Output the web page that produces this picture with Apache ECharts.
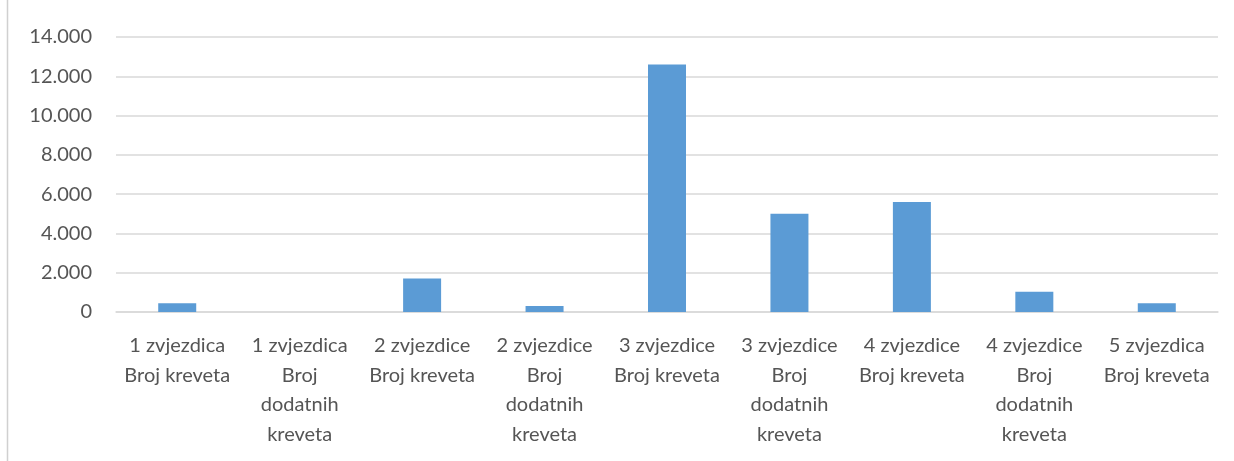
<!DOCTYPE html>
<html>
<head>
<meta charset="utf-8">
<script src="https://cdn.jsdelivr.net/npm/echarts@6/dist/echarts.min.js"></script>
<style>
  html, body { margin: 0; padding: 0; background: #fff; }
  #chart { width: 1234px; height: 461px; }
</style>
</head>
<body>
<div id="chart"></div>
<script>
// Categories: star rating + measure, line-broken as they appear under the axis
const categories = [
  '1 zvjezdica\nBroj kreveta',
  '1 zvjezdica\nBroj\ndodatnih\nkreveta',
  '2 zvjezdice\nBroj kreveta',
  '2 zvjezdice\nBroj\ndodatnih\nkreveta',
  '3 zvjezdice\nBroj kreveta',
  '3 zvjezdice\nBroj\ndodatnih\nkreveta',
  '4 zvjezdice\nBroj kreveta',
  '4 zvjezdice\nBroj\ndodatnih\nkreveta',
  '5 zvjezdica\nBroj kreveta'
];
const values = [440, 0, 1700, 300, 12600, 5000, 5600, 1030, 440];

const yMin = 0;
const yMax = 14000;
const yStep = 2000;

const fontFamily = 'Lato, "Open Sans", "Liberation Sans", sans-serif';
const textColor = '#555555';
const gridColor = '#d9d9d9';

function thousands(v) {
  return String(v).replace(/\B(?=(\d{3})+(?!\d))/g, '.');
}

const chart = echarts.init(document.getElementById('chart'), null, { renderer: 'canvas' });
chart.setOption({
  animation: false,
  backgroundColor: '#ffffff',
  grid: { left: 116, right: 16, top: 37, bottom: 149, containLabel: false },
  graphic: [{
    type: 'line',
    shape: { x1: 7.5, y1: 0, x2: 7.5, y2: 461 },
    style: { stroke: '#d0d0d0', lineWidth: 1.5 }
  }],
  xAxis: {
    type: 'category',
    data: categories,
    axisLine: { show: true, lineStyle: { color: gridColor, width: 1.5 } },
    axisTick: { show: false },
    axisLabel: {
      interval: 0,
      margin: 19,
      color: textColor,
      fontFamily: fontFamily,
      fontSize: 20,
      lineHeight: 29.5,
      align: 'center',
      verticalAlign: 'top'
    }
  },
  yAxis: {
    type: 'value',
    min: yMin,
    max: yMax,
    interval: yStep,
    axisLine: { show: false },
    axisTick: { show: false },
    splitLine: { lineStyle: { color: gridColor, width: 1.5 } },
    axisLabel: {
      margin: 24,
      color: textColor,
      fontFamily: fontFamily,
      fontSize: 20,
      formatter: thousands
    }
  },
  series: [{
    type: 'bar',
    data: values,
    barWidth: 38,
    itemStyle: { color: '#5b9bd5', borderWidth: 0 }
  }]
});
</script>
</body>
</html>
